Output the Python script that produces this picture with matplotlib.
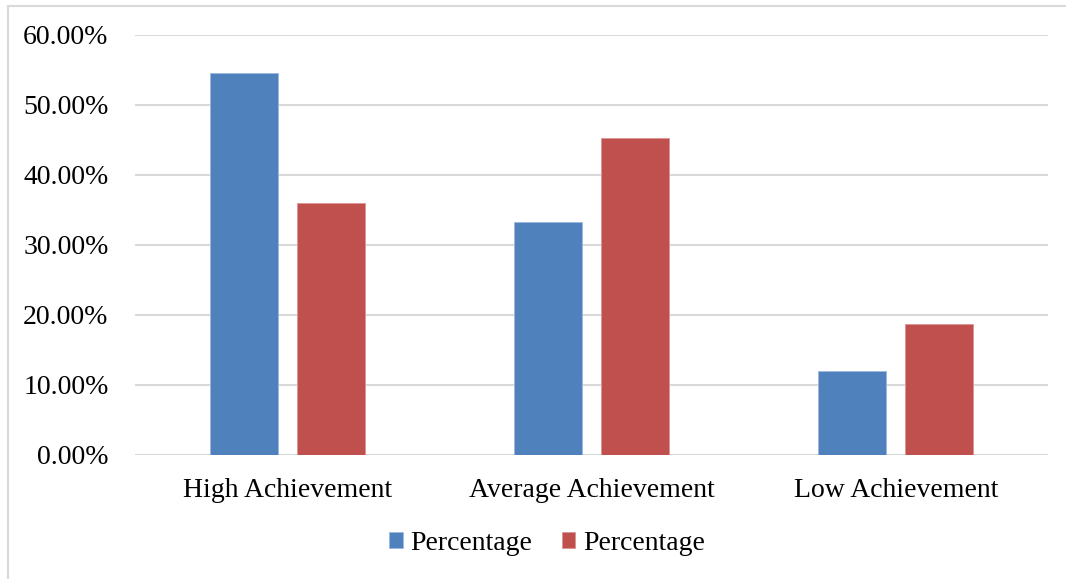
import matplotlib
matplotlib.use("Agg")
import matplotlib.pyplot as plt
import numpy as np
from matplotlib.lines import Line2D
from matplotlib.ticker import FuncFormatter

categories = ["High Achievement", "Average Achievement", "Low Achievement"]
series_labels = ["Percentage", "Percentage"]
series_a = [54.55, 33.33, 12.00]
series_b = [36.00, 45.28, 18.72]
y_ticks = [0, 10, 20, 30, 40, 50, 60]

colors = ["#4F81BD", "#C0504D"]

plt.rcParams["font.family"] = ["Liberation Serif", "DejaVu Serif"]
FS = 20

fig = plt.figure(figsize=(10.66, 5.79), dpi=100)
W, H = 1066, 579
ax = fig.add_axes([135 / W, 1 - 455 / H, (1048 - 135) / W, (455 - 35) / H])

x = np.arange(len(categories))
width = 0.2236
offset = 0.143
ax.bar(x - offset, series_a, width, color=colors[0], label=series_labels[0],
       edgecolor="#9DB9DE", linewidth=0.6, zorder=3)
ax.bar(x + offset, series_b, width, color=colors[1], label=series_labels[1],
       edgecolor="#DA9594", linewidth=0.6, zorder=3)

ax.set_xlim(-0.5, len(categories) - 0.5)
ax.set_ylim(0, 60)
ax.set_yticks(y_ticks)
ax.yaxis.set_major_formatter(FuncFormatter(lambda v, p: f"{v:.2f}%"))
ax.grid(axis="y", color="#D9D9D9", linewidth=1.5, zorder=0)
ax.set_axisbelow(True)
for s in ax.spines.values():
    s.set_visible(False)
ax.tick_params(axis="y", length=0, pad=19, labelsize=FS, colors="black")
ax.set_xticks(x)
ax.set_xticklabels(categories)
ax.tick_params(axis="x", length=0, pad=16.5, labelsize=FS, colors="black")
# baseline drawn as the 0% gridline
ax.axhline(0, color="#D9D9D9", linewidth=1.5, zorder=1)

leg = fig.legend(loc="center", bbox_to_anchor=(547 / W, 1 - 543 / H), ncol=2,
                 frameon=False, fontsize=FS, handlelength=0.5, handleheight=0.5,
                 handletextpad=0.28, columnspacing=1.05, borderaxespad=0)

# chart area border (top and left edges)
fig.add_artist(Line2D([8 / W, 1.0], [1 - 6 / H, 1 - 6 / H], color="#D9D9D9",
                      linewidth=1.5, transform=fig.transFigure))
fig.add_artist(Line2D([8 / W, 8 / W], [0, 1 - 6 / H], color="#D9D9D9",
                      linewidth=1.5, transform=fig.transFigure))

fig.savefig("out.png", dpi=100, facecolor="white")
